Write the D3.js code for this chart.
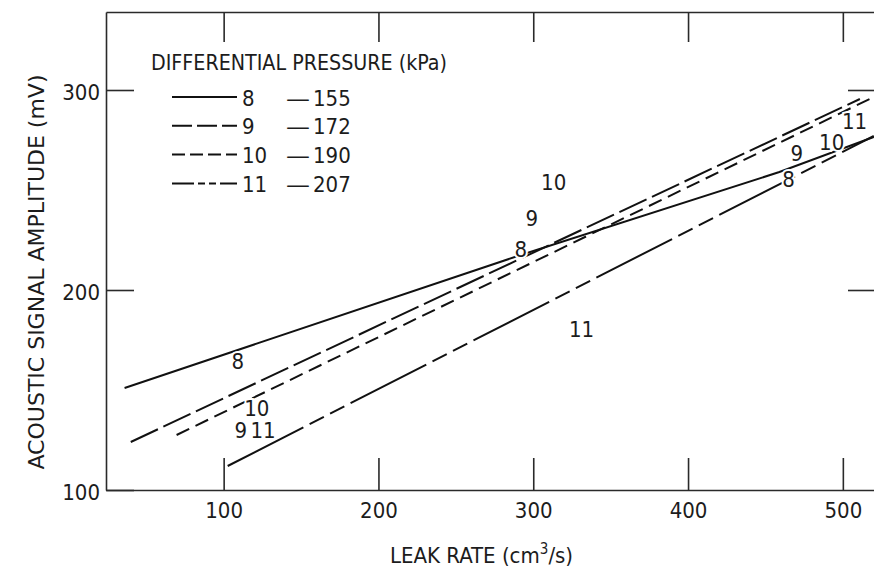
<!DOCTYPE html>
<html>
<head>
<meta charset="utf-8">
<script src="https://cdn.jsdelivr.net/npm/d3@7"></script>
<style>
  html, body { margin: 0; padding: 0; background: #fff; }
  svg { display: block; }
  text { font-family: 'Liberation Sans Narrow', 'DejaVu Sans Condensed', sans-serif; fill: #1c1c1c; }
</style>
</head>
<body>
<svg id="chart" width="874" height="569"></svg>
<script>
// Axis ticks
const leakTicks = [100, 200, 300, 400, 500];
const ampTicks = [100, 200, 300];

// Series: test number and differential pressure (kPa)
const seriesIds = ["8", "9", "10", "11"];
const pressures = [155, 172, 190, 207];

// Fitted lines: [leak rate (cm^3/s), amplitude (mV)]
const line8 = [[36, 151], [290, 217], [459, 259], [520, 276.5]];
const line9 = [[40, 124], [511, 295.5]];
const line10 = [[69.6, 127.5], [520, 296.5]];
const line11 = [[102.6, 112], [520, 277]];

// Test-number tags along the lines
const tagText = ["8", "10", "9", "11", "8", "9", "10", "11", "8", "9", "10", "11"];
const tagLeak = [109.2, 121.4, 111, 125.5, 291.9, 299, 313.2, 331.2, 465, 470.2, 492.8, 507.6];
const tagAmp = [164.5, 141, 130, 130, 220.5, 236, 254, 180.5, 255.5, 268.5, 274, 284.5];

const lines = [line8, line9, line10, line11];
const dashes = [null, "30,6", "14,7", "85,7,16,7,16,7"];
const legendDashes = [null, "20,5", "13,5", "22,4,7,4,7,4"];

const svg = d3.select("#chart");
const FS = 22;

const x = d3.scaleLinear().domain([24, 524]).range([106, 880]);
const y = d3.scaleLinear().domain([100, 339]).range([490, 12]);

const axisColor = "#2a2a2a";
function styleAxis(g) {
  g.selectAll("path.domain").attr("stroke", axisColor).attr("stroke-width", 1.6);
  g.selectAll(".tick line").attr("stroke", axisColor).attr("stroke-width", 1.6);
  g.selectAll(".tick text").attr("font-size", FS).attr("fill", "#1c1c1c")
    .style("font-family", "'Liberation Sans Narrow','DejaVu Sans Condensed',sans-serif");
}

// bottom axis with inward ticks
svg.append("g").attr("transform", "translate(0,490)")
  .call(d3.axisBottom(x).tickValues(leakTicks).tickSizeInner(-32).tickSizeOuter(0).tickPadding(12).tickFormat(d3.format("d")))
  .call(styleAxis);

// top frame with inward ticks
svg.append("g").attr("transform", "translate(0,12)")
  .call(d3.axisTop(x).tickValues(leakTicks).tickSizeInner(-30).tickSizeOuter(0).tickFormat(""))
  .call(styleAxis);

// left axis
const gl = svg.append("g").attr("transform", "translate(106,0)")
  .call(d3.axisLeft(y).tickValues(ampTicks).tickSizeInner(-28).tickSizeOuter(0).tickPadding(6).tickFormat(d3.format("d")))
  .call(styleAxis);
gl.selectAll(".tick text").attr("dy", "0.42em");

// right frame
svg.append("g").attr("transform", "translate(880,0)")
  .call(d3.axisRight(y).tickValues([200, 300]).tickSizeInner(-32).tickSizeOuter(0).tickFormat(""))
  .call(styleAxis);

// series lines
const lineGen = d3.line().x(d => x(d[0])).y(d => y(d[1]));
lines.forEach((pts, i) => {
  svg.append("path")
    .attr("d", lineGen(pts))
    .attr("fill", "none")
    .attr("stroke", "#111")
    .attr("stroke-width", 2)
    .attr("stroke-dasharray", dashes[i]);
});

// test-number tags (white halo breaks the line under them)
svg.append("g").selectAll("text")
  .data(tagText)
  .join("text")
  .attr("x", (d, i) => x(tagLeak[i]))
  .attr("y", (d, i) => y(tagAmp[i]))
  .attr("text-anchor", "middle")
  .attr("dominant-baseline", "central")
  .attr("font-size", FS)
  .attr("stroke", "#fff")
  .attr("stroke-width", 4)
  .attr("paint-order", "stroke")
  .text(d => d);

// legend
const legend = svg.append("g");
legend.append("text")
  .attr("x", 151).attr("y", 70)
  .attr("font-size", FS)
  .attr("textLength", 296).attr("lengthAdjust", "spacingAndGlyphs")
  .text("DIFFERENTIAL PRESSURE (kPa)");

seriesIds.forEach((id, i) => {
  const cy = 97 + i * 28.8;
  legend.append("line")
    .attr("x1", 172).attr("x2", 237)
    .attr("y1", cy).attr("y2", cy)
    .attr("stroke", "#111").attr("stroke-width", 2)
    .attr("stroke-dasharray", legendDashes[i]);
  legend.append("text").attr("x", 242).attr("y", cy + 8.5).attr("font-size", FS).text(id);
  legend.append("text").attr("x", 286).attr("y", cy + 8.5).attr("font-size", FS)
    .attr("textLength", 24).attr("lengthAdjust", "spacingAndGlyphs").text("\u2014");
  legend.append("text").attr("x", 313).attr("y", cy + 8.5).attr("font-size", FS).text(pressures[i]);
});

// axis titles
svg.append("text")
  .attr("transform", "translate(44,272) rotate(-90)")
  .attr("text-anchor", "middle")
  .attr("font-size", FS)
  .attr("textLength", 395).attr("lengthAdjust", "spacingAndGlyphs")
  .text("ACOUSTIC SIGNAL AMPLITUDE (mV)");

const xt = svg.append("text")
  .attr("x", 390).attr("y", 563)
  .attr("font-size", FS);
xt.append("tspan").text("LEAK RATE (cm");
xt.append("tspan").attr("font-size", 15).attr("dy", -9).text("3");
xt.append("tspan").attr("dy", 9).text("/s)");
</script>
</body>
</html>
